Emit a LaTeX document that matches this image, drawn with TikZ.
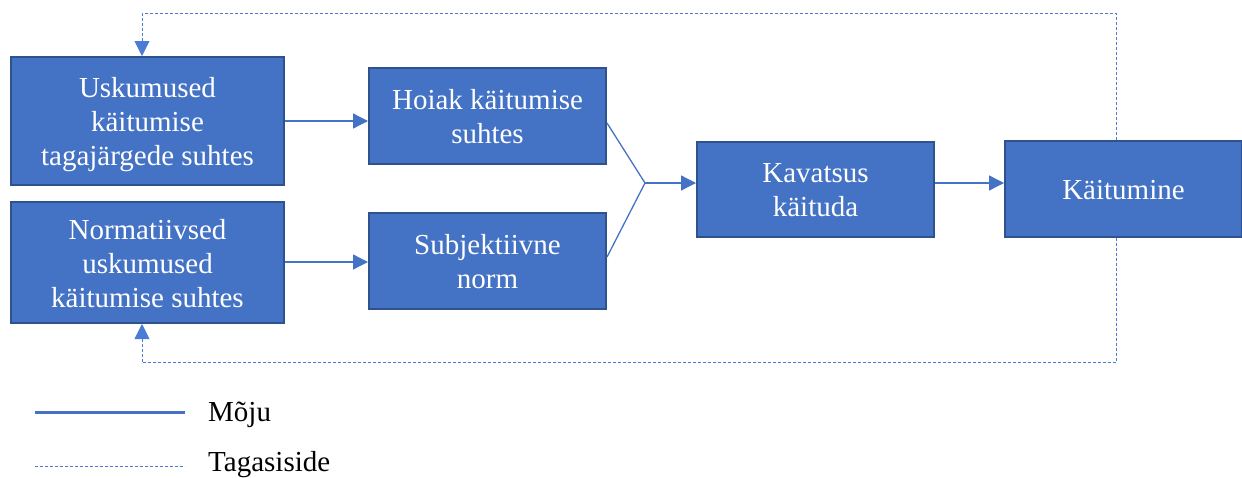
\documentclass[tikz,border=0pt]{standalone}
\usepackage{fontspec}
\setmainfont{Liberation Serif}
\usetikzlibrary{arrows.meta}
\definecolor{boxfill}{HTML}{4472C4}
\definecolor{boxline}{HTML}{2F528F}
\definecolor{fbline}{HTML}{4A7BD6}
\newcommand\bt[1]{\raisebox{-4pt}[\height][\depth]{\begin{tabular}{@{}c@{}}#1\end{tabular}}}
\begin{document}
\begin{tikzpicture}[x=1pt,y=-1pt,
  box/.style={draw=boxline,line width=2pt,fill=boxfill,text=white,inner sep=0pt,
    font=\fontsize{29}{34}\selectfont},
  infl/.style={draw=boxfill,line width=1.3pt},
  fb/.style={draw=fbline,line width=0.9pt,dash pattern=on 3pt off 2pt},
  tip/.style={-{Triangle[length=15pt,width=15pt]}},
  leg/.style={font=\fontsize{29}{34}\selectfont,anchor=base west,inner sep=0pt}]
\useasboundingbox (0,0) rectangle (1242,477);
\node[box,minimum width=273pt,minimum height=128pt] (b1) at (147.5,121) {\bt{Uskumused\\käitumise\\tagajärgede suhtes}};
\node[box,minimum width=273pt,minimum height=121pt] (b2) at (147.5,262.5) {\bt{Normatiivsed\\uskumused\\käitumise suhtes}};
\node[box,minimum width=237pt,minimum height=96pt] (b3) at (487.5,116) {\bt{Hoiak käitumise\\suhtes}};
\node[box,minimum width=237pt,minimum height=96pt] (b4) at (487.5,261) {\bt{Subjektiivne\\norm}};
\node[box,minimum width=237pt,minimum height=95pt] (b5) at (815.5,189) {\bt{Kavatsus\\käituda}};
\node[box,minimum width=237pt,minimum height=96pt] (b6) at (1123.5,188.5) {\bt{Käitumine}};
\coordinate (j) at (645,183);
\draw[infl,tip] (b1.east |- 0,121) -- (b3.west |- 0,121);
\draw[infl,tip] (b2.east |- 0,262) -- (b4.west |- 0,262);
\draw[infl] (b3.east |- 0,123) -- (j);
\draw[infl] (b4.east |- 0,257) -- (j);
\draw[infl,tip] (j) -- (b5.west |- j);
\draw[infl,tip] (b5.east |- j) -- (b6.west |- j);
\coordinate (tr) at (1116,13);
\coordinate (tl) at (142,13);
\coordinate (br) at (1116,362);
\coordinate (bl) at (142,362);
\draw[fb] (b6.north -| tr) -- (tr) -- (tl);
\draw[fb,tip] (tl) -- (b1.north -| tl);
\draw[fb] (b6.south -| br) -- (br) -- (bl);
\draw[fb,tip] (bl) -- (b2.south -| bl);
\coordinate (l1a) at (35,412.5);
\coordinate (l1b) at (185,412.5);
\coordinate (l2a) at (35,466.5);
\coordinate (l2b) at (185,466.5);
\draw[infl,line width=2.4pt] (l1a) -- (l1b);
\draw[fb] (l2a) -- (l2b);
\node[leg] (t1) at (208,421.5) {Mõju};
\node[leg] (t2) at (208,471.5) {Tagasiside};
\end{tikzpicture}
\end{document}
